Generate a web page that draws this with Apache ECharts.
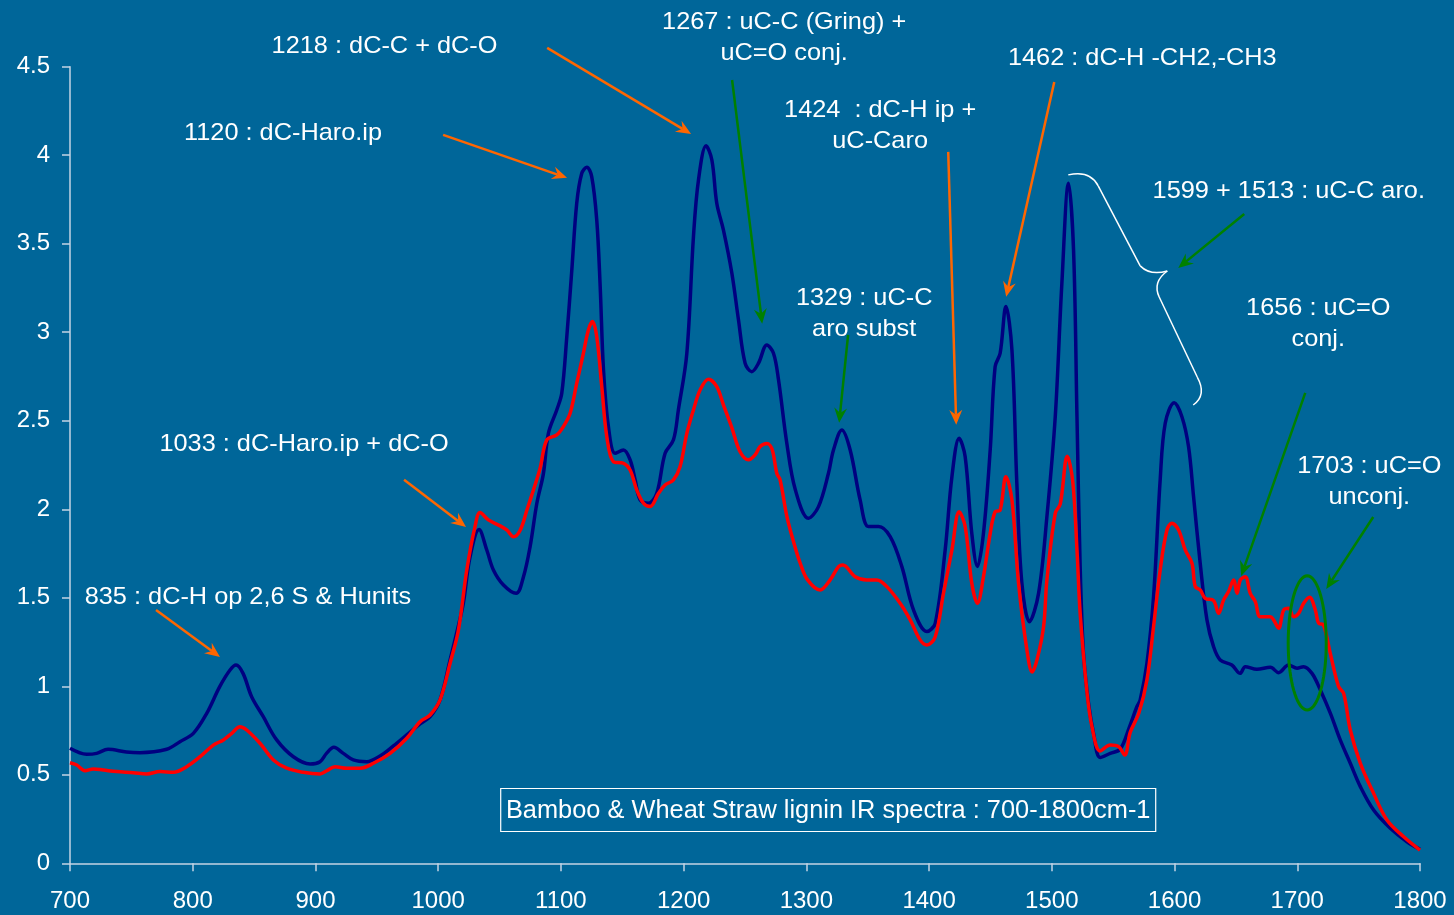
<!DOCTYPE html>
<html>
<head>
<meta charset="utf-8">
<script src="https://cdn.jsdelivr.net/npm/echarts@6/dist/echarts.min.js"></script>
<style>
  html, body { margin: 0; padding: 0; background: #006699; }
  #chart { width: 1454px; height: 915px; }
</style>
</head>
<body>
<div id="chart"></div>
<script>
// Navy trace: wavenumber (cm-1) and absorbance
const navyWavenumber = [
  700, 713.6, 721.7, 731, 746, 757, 778.8, 789.6, 800.5, 811.4, 822, 830.4, 835.3, 841, 848, 857.5,
  868.4, 882, 895.6, 903.7, 909, 915, 922.7, 930.9, 941.8, 952.6, 963.5, 974.4, 985.2, 993.4,
  1001.5, 1009.7, 1015, 1020.5, 1026, 1033.3, 1039.6, 1045, 1053.2, 1063.5, 1069.5, 1074.9, 1080.4,
  1085.7, 1089.8, 1096.6, 1100.7, 1104.8, 1108.9, 1112.9, 1117, 1121.1, 1125.1, 1129.2, 1132,
  1134.7, 1138.7, 1144.2, 1151, 1156.4, 1160.5, 1164.5, 1171.3, 1178.1, 1184.9, 1191.7, 1195.7,
  1202.6, 1208, 1212.1, 1218.3, 1223, 1227, 1232.4, 1239.3, 1244.7, 1250.1, 1255.5, 1261, 1267.8,
  1273.2, 1277.3, 1284.1, 1291, 1301.7, 1309.9, 1318, 1322.1, 1328.9, 1335.7, 1343.8, 1350.6,
  1358.8, 1368.3, 1377.8, 1387.3, 1398.2, 1405, 1413.1, 1418.6, 1424.5, 1429.4, 1434.8, 1439.4,
  1444.3, 1449.8, 1453.8, 1457.9, 1462.6, 1467.5, 1471.5, 1475.6, 1481.8, 1489.2, 1496, 1502.8,
  1508.2, 1513.6, 1517.7, 1520.5, 1523, 1525.8, 1529.9, 1534, 1539.4, 1547.6, 1555.7, 1563,
  1569.3, 1572, 1577.5, 1582.9, 1588.3, 1592.4, 1599.7, 1606, 1611.4, 1615.5, 1620.9, 1626.4,
  1631.8, 1637.2, 1646.7, 1653.5, 1657.6, 1667.1, 1678, 1684.8, 1692.9, 1699.8, 1705.1, 1712,
  1718.8, 1727, 1735, 1743.2, 1751.4, 1762.2, 1775.8, 1789.4, 1800
];
const navyAbsorbance = [
  0.650, 0.616, 0.621, 0.644, 0.629, 0.625, 0.644, 0.687, 0.734, 0.847, 0.998, 1.092, 1.120, 1.073, 0.941, 0.828,
  0.697, 0.602, 0.561, 0.574, 0.621, 0.655, 0.621, 0.584, 0.574, 0.606, 0.663, 0.725, 0.787, 0.828,
  0.923, 1.149, 1.300, 1.469, 1.732, 1.885, 1.770, 1.657, 1.572, 1.525, 1.619, 1.789, 2.034,
  2.200, 2.429, 2.561, 2.655, 2.975, 3.352, 3.729, 3.898, 3.932, 3.879, 3.634, 3.258,
  2.787, 2.467, 2.316, 2.335, 2.279, 2.166, 2.053, 2.034, 2.090, 2.316, 2.392, 2.561,
  2.881, 3.540, 3.860, 4.053, 3.973, 3.729, 3.578, 3.333, 3.069, 2.825, 2.777, 2.825, 2.928,
  2.881, 2.731, 2.372, 2.110, 1.949, 2.015, 2.203, 2.335, 2.448, 2.335, 2.053, 1.902,
  1.902, 1.845, 1.676, 1.431, 1.309, 1.356, 1.770, 2.184, 2.401, 2.297, 1.864, 1.676,
  1.864, 2.335, 2.806, 2.881, 3.145, 2.900, 2.147, 1.582, 1.365, 1.525, 1.958, 2.523,
  3.277, 3.842, 3.465, 2.523, 1.700, 1.186, 0.904, 0.734, 0.598, 0.621, 0.645, 0.765,
  0.885, 0.923, 1.130, 1.506, 2.166, 2.486, 2.602, 2.523, 2.354, 2.071, 1.695, 1.375,
  1.224, 1.149, 1.120, 1.073, 1.111, 1.096, 1.107, 1.077, 1.120, 1.102, 1.111, 1.073,
  0.979, 0.847, 0.697, 0.565, 0.433, 0.301, 0.198, 0.122, 0.079
];

// Red trace: wavenumber (cm-1) and absorbance
const redWavenumber = [
  700, 705.5, 712.2, 719, 727.1, 738, 751.6, 762.5, 773.4, 784.2, 795.1, 806, 816.8, 825, 831.8,
  838.5, 844, 854.8, 865.7, 876.6, 890.1, 903.7, 909.2, 915.9, 925.5, 936.3, 947.2, 960.8, 974.4,
  985.2, 993.4, 1001.5, 1009.7, 1016.5, 1023.3, 1030, 1034.1, 1040.9, 1050.4, 1055.9, 1061.3,
  1066.7, 1072.5, 1077.6, 1083, 1088.5, 1096.6, 1102, 1107.5, 1112.9, 1118.3, 1122.4, 1125.7,
  1129.2, 1133.3, 1137.4, 1142.8, 1151, 1156.4, 1161.8, 1167.3, 1172.7, 1179.5, 1184.9, 1191.7,
  1197.1, 1202.6, 1208, 1213.4, 1220.2, 1227, 1232.4, 1239.3, 1246, 1252.8, 1258.2, 1262.3,
  1267.8, 1272, 1275.9, 1278.6, 1284.1, 1289.5, 1295, 1301, 1311.2, 1319.4, 1326.2, 1329.7,
  1339.8, 1349.3, 1357.4, 1365.6, 1376.4, 1384.6, 1392.7, 1398.2, 1405, 1411.7, 1418.6, 1424.5,
  1429.4, 1434.8, 1439.4, 1444.3, 1449.8, 1453.8, 1457.9, 1462.6, 1467.5, 1472.9, 1479.7, 1484,
  1487.9, 1493.3, 1496, 1502.8, 1506.9, 1512.6, 1517, 1520.5, 1523.1, 1528.6, 1532.7, 1539.4,
  1547.6, 1554.4, 1559.4, 1563.9, 1571, 1577.5, 1582.9, 1588.3, 1593.8, 1597.8, 1603.3, 1608.7,
  1614.2, 1616.9, 1620.9, 1625, 1631.8, 1635.9, 1640, 1644, 1648.1, 1650.9, 1653.6, 1657.6,
  1661.7, 1665.8, 1669.9, 1678, 1680.7, 1684.8, 1688.9, 1693, 1697, 1701.1, 1705.2, 1710,
  1714.7, 1717.4, 1721.4, 1726.9, 1733.7, 1737.8, 1743.2, 1751.4, 1762.2, 1773.1, 1786.7, 1800
];
const redAbsorbance = [
  0.568, 0.555, 0.523, 0.533, 0.527, 0.518, 0.512, 0.505, 0.518, 0.514, 0.546, 0.602, 0.668, 0.697, 0.734,
  0.772, 0.753, 0.678, 0.584, 0.537, 0.514, 0.505, 0.523, 0.546, 0.537, 0.537, 0.565, 0.621, 0.706,
  0.800, 0.838, 0.923, 1.130, 1.318, 1.657, 1.902, 1.981, 1.940, 1.906, 1.883, 1.845,
  1.880, 2.000, 2.109, 2.230, 2.392, 2.420, 2.467, 2.542, 2.712, 2.881, 3.013, 3.060,
  2.975, 2.693, 2.410, 2.269, 2.260, 2.222, 2.109, 2.034, 2.015, 2.090, 2.137, 2.166,
  2.241, 2.429, 2.561, 2.674, 2.735, 2.693, 2.590, 2.460, 2.325, 2.279, 2.307, 2.354,
  2.371, 2.340, 2.203, 2.166, 1.960, 1.818, 1.695, 1.601, 1.544, 1.601, 1.676, 1.685,
  1.619, 1.601, 1.601, 1.563, 1.469, 1.375, 1.262, 1.233, 1.280, 1.525, 1.770, 1.986,
  1.902, 1.582, 1.469, 1.619, 1.864, 1.986, 1.996, 2.184, 2.053, 1.582, 1.205, 1.080,
  1.149, 1.337, 1.601, 1.977, 2.030, 2.300, 2.160, 1.770, 1.412, 0.970, 0.772, 0.635,
  0.668, 0.659, 0.612, 0.740, 0.850, 1.036, 1.337, 1.657, 1.883, 1.921, 1.883, 1.770,
  1.695, 1.563, 1.544, 1.497, 1.484, 1.412, 1.488, 1.535, 1.601, 1.525, 1.601, 1.619,
  1.525, 1.478, 1.393, 1.393, 1.375, 1.328, 1.431, 1.441, 1.393, 1.412, 1.469, 1.503,
  1.431, 1.356, 1.346, 1.186, 0.998, 0.960, 0.753, 0.565, 0.395, 0.245, 0.150, 0.075
];

// Band assignments: text anchor (centre, in axis units) and arrow [from, to] in axis units
const noteTexts = [
  '835 : dC-H op 2,6 S & Hunits',
  '1033 : dC-Haro.ip + dC-O',
  '1120 : dC-Haro.ip',
  '1218 : dC-C + dC-O',
  '1267 : uC-C (Gring) +\nuC=O conj.',
  '1424  : dC-H ip +\nuC-Caro',
  '1462 : dC-H -CH2,-CH3',
  '1329 : uC-C\naro subst',
  '1599 + 1513 : uC-C aro.',
  '1656 : uC=O\nconj.',
  '1703 : uC=O\nunconj.'
];
const noteAnchors = [
  [845.0, 1.505], [890.7, 2.365], [873.6, 4.122], [956.3, 4.614], [1281.9, 4.664],
  [1360.1, 4.167], [1573.7, 4.545], [1347.1, 3.105], [1693.1, 3.794], [1717.1, 3.045],
  [1758.7, 2.156]
];
const noteArrows = [
  [[770.1, 1.431], [822.2, 1.166]],
  [[972.2, 2.166], [1022.7, 1.900]],
  [[1004.0, 4.115], [1105.0, 3.872]],
  [[1088.8, 4.606], [1206.1, 4.120]],
  [[1239.5, 4.425], [1264.0, 3.048]],
  [[1415.6, 4.019], [1422.1, 2.477]],
  [[1502.0, 4.414], [1462.8, 3.200]],
  [[1334.0, 2.985], [1326.7, 2.488]],
  [[1656.8, 3.668], [1603.0, 3.363]],
  [[1706.5, 2.657], [1654.3, 1.623]],
  [[1761.9, 1.956], [1723.6, 1.550]]
];
const noteArrowKinds = ['orange', 'orange', 'orange', 'orange', 'green', 'orange', 'orange', 'green', 'green', 'green', 'green'];

const chartTitle = 'Bamboo & Wheat Straw lignin IR spectra : 700-1800cm-1';

const FONT = "'Liberation Sans', Arial, Helvetica, sans-serif";
const AXIS_COLOR = '#c4d4e4';
const ARROW_COLORS = { orange: '#ff6600', green: '#008000' };

const pairs = (xs, ys) => xs.map((x, i) => [x, ys[i]]);

const chart = echarts.init(document.getElementById('chart'), null, { renderer: 'canvas' });

const axisCommon = {
  type: 'value',
  axisLine: { show: true, onZero: false, lineStyle: { color: AXIS_COLOR, width: 1.5 } },
  axisTick: { show: true, length: 8, lineStyle: { color: AXIS_COLOR, width: 1.5 } },
  splitLine: { show: false },
  axisLabel: { color: '#ffffff', fontSize: 24, fontFamily: FONT, formatter: (v) => String(v) }
};

chart.setOption({
  backgroundColor: '#006699',
  animation: false,
  grid: { left: 70, right: 34, top: 66.7, bottom: 51.7 },
  xAxis: Object.assign({}, axisCommon, {
    min: 700, max: 1800, interval: 100,
    axisLabel: Object.assign({}, axisCommon.axisLabel, { margin: 26 })
  }),
  yAxis: Object.assign({}, axisCommon, {
    min: 0, max: 4.5, interval: 0.5,
    axisLabel: Object.assign({}, axisCommon.axisLabel, { margin: 20, padding: [4, 0, 0, 0] })
  }),
  series: [
    {
      name: 'navy', type: 'line', data: pairs(navyWavenumber, navyAbsorbance),
      showSymbol: false, smooth: 0.35, z: 2,
      lineStyle: { color: '#000080', width: 3.5 }
    },
    {
      name: 'red', type: 'line', data: pairs(redWavenumber, redAbsorbance),
      showSymbol: false, smooth: 0.35, z: 3,
      lineStyle: { color: '#ff0000', width: 3.5 }
    }
  ]
});

// Annotation layer, placed through the grid's own coordinate system
const toPx = (p) => chart.convertToPixel({ gridIndex: 0 }, p);

function arrowElements(from, to, color) {
  const a = toPx(from), b = toPx(to);
  const dx = b[0] - a[0], dy = b[1] - a[1];
  const len = Math.hypot(dx, dy);
  const ux = dx / len, uy = dy / len, nx = -uy, ny = ux;
  const L = 15, W = 6.5, notch = 10;
  const base = [b[0] - L * ux, b[1] - L * uy];
  const mid = [b[0] - notch * ux, b[1] - notch * uy];
  return [
    { type: 'line', z: 20, shape: { x1: a[0], y1: a[1], x2: mid[0], y2: mid[1] },
      style: { stroke: color, lineWidth: 2.5 } },
    { type: 'polygon', z: 20,
      shape: { points: [b, [base[0] + W * nx, base[1] + W * ny], mid, [base[0] - W * nx, base[1] - W * ny]] },
      style: { fill: color } }
  ];
}

function buildAnnotations() {
  const els = [];
  noteTexts.forEach((t, i) => {
    const p = toPx(noteAnchors[i]);
    els.push({
      type: 'text', x: p[0], y: p[1], z: 30, scaleX: 1.055,
      style: { text: t, fill: '#ffffff', fontSize: 24, fontFamily: FONT,
               align: 'center', verticalAlign: 'middle', lineHeight: 31 }
    });
    els.push.apply(els, arrowElements(noteArrows[i][0], noteArrows[i][1], ARROW_COLORS[noteArrowKinds[i]]));
  });

  // Ring around the unconjugated carbonyl band
  const c = toPx([1708.1, 1.245]);
  const ex = toPx([1708.1 + 15.5, 1.245])[0] - c[0];
  const ey = c[1] - toPx([1708.1, 1.245 + 0.379])[1];
  const ring = [];
  for (let k = 0; k < 72; k++) {
    const t = (k / 72) * Math.PI * 2;
    ring.push([c[0] + ex * Math.cos(t), c[1] + ey * Math.sin(t)]);
  }
  els.push({ type: 'polygon', z: 25, shape: { points: ring },
             style: { fill: 'none', stroke: '#008000', lineWidth: 3 } });

  // Curly brace grouping the 1513 and 1599 bands
  const q = (pts) => pts.map(toPx);
  const braceStyle = { stroke: '#ffffff', lineWidth: 1.5, fill: 'none' };
  const curves = [
    q([[1513.4, 3.889], [1531.3, 3.917], [1537.8, 3.827]]),
    q([[1572.0, 3.375], [1580.2, 3.318], [1594.1, 3.346]]),
    q([[1594.1, 3.346], [1581.8, 3.284], [1587.5, 3.199]]),
    q([[1618.5, 2.747], [1626.6, 2.646], [1615.2, 2.589]])
  ];
  curves.forEach((cv) => {
    els.push({ type: 'bezierCurve', z: 25,
      shape: { x1: cv[0][0], y1: cv[0][1], cpx1: cv[1][0], cpy1: cv[1][1], x2: cv[2][0], y2: cv[2][1] },
      style: braceStyle });
  });
  const straights = [
    q([[1537.8, 3.827], [1572.0, 3.375]]),
    q([[1587.5, 3.199], [1618.5, 2.747]])
  ];
  straights.forEach((s) => {
    els.push({ type: 'line', z: 25,
      shape: { x1: s[0][0], y1: s[0][1], x2: s[1][0], y2: s[1][1] }, style: braceStyle });
  });

  // Title box
  const tc = toPx([1317.8, 0.301]);
  els.push({ type: 'rect', z: 30,
    shape: { x: tc[0] - 327.5, y: tc[1] - 21.5, width: 655, height: 43 },
    style: { fill: 'none', stroke: '#ffffff', lineWidth: 1.2 } });
  els.push({ type: 'text', x: tc[0], y: tc[1] + 1, z: 31, scaleX: 1.015,
    style: { text: chartTitle, fill: '#ffffff', fontSize: 25, fontFamily: FONT,
             align: 'center', verticalAlign: 'middle' } });
  return els;
}

chart.setOption({ graphic: { elements: buildAnnotations() } });
</script>
</body>
</html>
